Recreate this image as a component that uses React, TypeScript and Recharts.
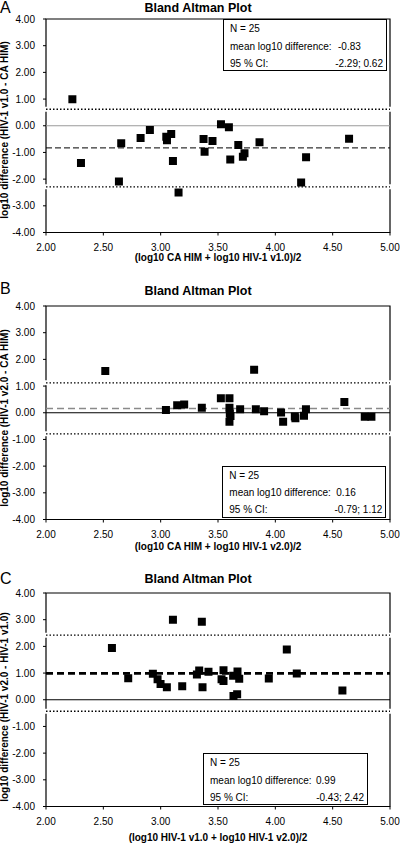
import React from 'react'
import {
  ScatterChart,
  Scatter,
  XAxis,
  YAxis,
  ZAxis,
  ReferenceLine,
  ReferenceArea,
} from 'recharts'

// ticks
const xTicks = [2, 2.5, 3, 3.5, 4, 4.5, 5]
const yTicks = [-4, -3, -2, -1, 0, 1, 2, 3, 4]

// panel A: HIV-1 v1.0 vs CA HIM
const aX = [2.23, 2.305, 2.636, 2.656, 2.825, 2.906, 3.049, 3.055, 3.092, 3.107, 3.156, 3.374, 3.383, 3.452, 3.526, 3.595, 3.607, 3.677, 3.717, 3.731, 3.862, 4.225, 4.268, 4.643]
const aY = [0.99, -1.4, -2.09, -0.66, -0.46, -0.16, -0.41, -0.54, -0.31, -1.32, -2.5, -0.5, -0.97, -0.57, 0.06, -0.06, -1.26, -0.72, -1.16, -1.03, -0.62, -2.13, -1.18, -0.49]

// panel B: HIV-1 v2.0 vs CA HIM
const bX = [2.517, 3.046, 3.144, 3.205, 3.359, 3.525, 3.6, 3.6, 3.603, 3.609, 3.6, 3.693, 3.815, 3.83, 3.902, 4.05, 4.068, 4.17, 4.175, 4.25, 4.267, 4.602, 4.78, 4.838]
const bY = [1.56, 0.1, 0.28, 0.31, 0.19, 0.54, 0.54, 0.19, -0.03, -0.12, -0.34, 0.13, 1.61, 0.13, 0.06, 0.01, -0.34, -0.14, -0.21, -0.11, 0.13, 0.4, -0.15, -0.15]

// panel C: HIV-1 v2.0 vs HIV-1 v1.0
const cX = [2.575, 2.717, 2.932, 2.973, 2.999, 3.054, 3.107, 3.188, 3.316, 3.336, 3.359, 3.365, 3.417, 3.531, 3.548, 3.548, 3.632, 3.635, 3.667, 3.67, 3.685, 3.943, 4.1, 4.187, 4.585]
const cY = [1.94, 0.81, 0.97, 0.77, 0.59, 0.47, 3.0, 0.51, 0.95, 1.1, 2.92, 0.47, 1.05, 0.77, 0.7, 1.11, 0.9, 0.14, 0.21, 1.06, 0.79, 0.8, 1.88, 0.98, 0.35]

// summary stats (A, B, C)
const letters = ['A', 'B', 'C']
const nValues = [25, 25, 25]
const means = [-0.83, 0.16, 0.99]
const ciLow = [-2.29, -0.79, -0.43]
const ciHigh = [0.62, 1.12, 2.42]
const yLabels = [
  'log10 difference (HIV-1 v1.0 - CA HIM)',
  'log10 difference (HIV-1 v2.0 - CA HIM)',
  'log10 difference (HIV-1 v2.0 - HIV-1 v1.0)',
]
const xLabels = [
  '(log10 CA HIM + log10 HIV-1 v1.0)/2',
  '(log10 CA HIM + log10 HIV-1 v2.0)/2',
  '(log10 HIV-1 v1.0 + log10 HIV-1 v2.0)/2',
]

const FONT = '"Liberation Sans", Arial, Helvetica, sans-serif'
const fmt = (v: number) => v.toFixed(2)

const seriesX = [aX, bX, cX]
const seriesY = [aY, bY, cY]

// layout per panel (page coordinates)
const layout = [
  { top: 0, letterTop: 0, titleY: 7.5, yLabelY: 130, xLabelY: 258, box: { left: 223, top: 19, width: 164 }, valueLeft: 114 },
  { top: 286.7, letterTop: 280.5, titleY: 290.8, yLabelY: 418, xLabelY: 546.5, box: { left: 222.3, top: 465.5, width: 164 }, valueLeft: 113 },
  { top: 573.7, letterTop: 571, titleY: 579.2, yLabelY: 706.5, xLabelY: 838, box: { left: 203, top: 753.3, width: 165 }, valueLeft: 112 },
]

const meanStyles = [
  { stroke: '#000', strokeWidth: 1, strokeDasharray: '6 3' },
  { stroke: '#8a8a8a', strokeWidth: 1.6, strokeDasharray: '7 4' },
  { stroke: '#000', strokeWidth: 2.6, strokeDasharray: '7 4' },
]
const zeroStyles = [
  { stroke: '#9a9a9a', strokeWidth: 1 },
  { stroke: '#000', strokeWidth: 1.2 },
  { stroke: '#000', strokeWidth: 1.2 },
]

function Panel({ i }: { i: number }) {
  const l = layout[i]
  const data = seriesX[i].map((x, k) => ({ x, y: seriesY[i][k] }))
  const tickStyle = { fontSize: 10, fill: '#000', fontFamily: FONT }

  return (
    <>
      <div style={{ position: 'absolute', left: 0, top: l.letterTop, fontSize: 16, fontFamily: FONT, lineHeight: '16px' }}>
        {letters[i]}
      </div>
      <div
        style={{
          position: 'absolute', left: 98, width: 200, top: l.titleY - 8, height: 16, lineHeight: '16px',
          textAlign: 'center', fontSize: 12.5, fontWeight: 'bold', fontFamily: FONT,
        }}
      >
        Bland Altman Plot
      </div>
      <div style={{ position: 'absolute', left: 0, top: l.top, width: 400, height: 287 }}>
        <ScatterChart width={400} height={287} margin={{ top: 19, right: 10, bottom: 24.5, left: 0 }}>
          <XAxis
            type="number"
            dataKey="x"
            domain={[2, 5]}
            ticks={xTicks}
            tickFormatter={fmt}
            axisLine={false}
            tickLine={{ stroke: '#000' }}
            tickSize={3}
            tickMargin={8}
            height={30}
            tick={tickStyle}
            allowDataOverflow
          />
          <YAxis
            type="number"
            dataKey="y"
            domain={[-4, 4]}
            ticks={yTicks}
            tickFormatter={fmt}
            axisLine={false}
            tickLine={{ stroke: '#000' }}
            tickSize={3}
            tickMargin={8}
            width={46}
            tick={tickStyle}
            allowDataOverflow
          />
          <ZAxis range={[40, 40]} />
          <ReferenceArea x1={2} x2={5} y1={-4} y2={4} fill="none" fillOpacity={0} stroke="#000" strokeWidth={1.2} />
          <ReferenceLine y={ciHigh[i]} stroke="#fff" strokeWidth={5} strokeLinecap="square" />
          <ReferenceLine y={ciLow[i]} stroke="#fff" strokeWidth={5} strokeLinecap="square" />
          <ReferenceLine y={ciHigh[i]} stroke="#000" strokeWidth={1.4} strokeDasharray="1.5 2" />
          <ReferenceLine y={ciLow[i]} stroke="#000" strokeWidth={1.4} strokeDasharray="1.5 2" />
          <ReferenceLine y={0} {...zeroStyles[i]} />
          <ReferenceLine y={means[i]} {...meanStyles[i]} />
          <Scatter data={data} shape="square" fill="#000" isAnimationActive={false} />
        </ScatterChart>
      </div>
      <div
        style={{
          position: 'absolute', left: 5 - 110, top: l.yLabelY - 7, width: 220, height: 14, lineHeight: '14px',
          transform: 'rotate(-90deg)', textAlign: 'center', fontSize: 10, fontWeight: 'bold', fontFamily: FONT,
          whiteSpace: 'nowrap',
        }}
      >
        {yLabels[i]}
      </div>
      <div
        style={{
          position: 'absolute', left: 46, width: 344, top: l.xLabelY - 7, height: 14, lineHeight: '14px',
          textAlign: 'center', fontSize: 10, fontWeight: 'bold', fontFamily: FONT, whiteSpace: 'nowrap',
        }}
      >
        {xLabels[i]}
      </div>
      <div
        style={{
          position: 'absolute', left: l.box.left, top: l.box.top, width: l.box.width, height: 52,
          boxSizing: 'border-box', border: '1.5px solid #000', background: '#fff',
          fontSize: 10, fontFamily: FONT, lineHeight: '12px',
        }}
      >
        <div style={{ position: 'absolute', left: 6, top: 3 }}>N = {nValues[i]}</div>
        <div style={{ position: 'absolute', left: 6, top: 20.5 }}>mean log10 difference:</div>
        <div style={{ position: 'absolute', left: l.valueLeft, top: 20.5 }}>{fmt(means[i])}</div>
        <div style={{ position: 'absolute', left: 6, top: 37.5 }}>95 % CI:</div>
        <div style={{ position: 'absolute', right: 3, top: 37.5 }}>
          {fmt(ciLow[i])}; {fmt(ciHigh[i])}
        </div>
      </div>
    </>
  )
}

export default function App() {
  return (
    <div style={{ position: 'absolute', left: 0, top: 0, width: 400, height: 845, background: '#fff', overflow: 'hidden' }}>
      <Panel i={0} />
      <Panel i={1} />
      <Panel i={2} />
    </div>
  )
}
